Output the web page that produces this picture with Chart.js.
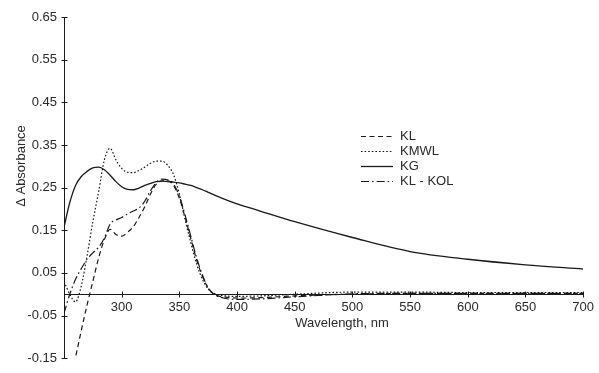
<!DOCTYPE html>
<html>
<head>
<meta charset="utf-8">
<script src="https://cdn.jsdelivr.net/npm/chart.js@4/dist/chart.umd.min.js"></script>
<style>
  html, body { margin: 0; padding: 0; background: #fff; }
  #wrap { width: 599px; height: 373px; position: relative; }
</style>
</head>
<body>
<div id="wrap"><canvas id="c" width="599" height="373"></canvas></div>
<script>
// ---- data ----
const wavelengths = [250,255,260,265,270,275,280,285,290,295,300,305,310,315,320,325,330,335,340,345,350,355,360,365,370,375,380,390,400,420,450,500,550,600,650,700];
const seriesNames = ['KL', 'KMWL', 'KG', 'KL - KOL'];
const klValues = [-0.28,-0.21,-0.148,-0.085,-0.025,0.03,0.085,0.128,0.152,0.14,0.136,0.145,0.158,0.18,0.205,0.235,0.258,0.266,0.266,0.255,0.225,0.18,0.13,0.08,0.042,0.014,0.0,-0.007,-0.009,-0.008,-0.004,0.0,0.002,0.002,0.002,0.002];
const kmwlValues = [0.03,0.0,-0.018,0.02,0.09,0.17,0.24,0.315,0.342,0.315,0.295,0.286,0.285,0.29,0.298,0.307,0.312,0.312,0.302,0.28,0.235,0.175,0.12,0.07,0.035,0.012,0.002,-0.004,-0.005,-0.004,0.0,0.005,0.005,0.004,0.004,0.004];
const kgValues = [0.157,0.215,0.255,0.276,0.288,0.296,0.298,0.292,0.279,0.264,0.252,0.246,0.245,0.249,0.255,0.26,0.264,0.265,0.264,0.263,0.261,0.258,0.255,0.25,0.245,0.239,0.233,0.222,0.212,0.195,0.17,0.133,0.1,0.082,0.069,0.059];
const klkolValues = [-0.045,0.0,0.035,0.06,0.082,0.097,0.11,0.132,0.165,0.174,0.18,0.188,0.195,0.202,0.218,0.243,0.262,0.27,0.268,0.258,0.23,0.185,0.135,0.085,0.045,0.015,0.0,-0.01,-0.012,-0.011,-0.006,0.001,0.002,0.002,0.002,0.002];
const xTickValues = [300,350,400,450,500,550,600,650,700];
const yTickValues = [-0.15,-0.05,0.05,0.15,0.25,0.35,0.45,0.55,0.65];
const xTitle = 'Wavelength, nm';
const yTitle = '\u0394 Absorbance';

const INK = '#1a1a1a';
const TXT = '#2a2a2a';
const FONT = '13px "Liberation Sans", Arial, sans-serif';

function pts(vals) { return wavelengths.map((w, i) => ({ x: w, y: vals[i] })); }

const styles = [
  { dash: [5, 3.5], width: 1.2 },
  { dash: [1.6, 2], width: 1.2 },
  { dash: [], width: 1.3 },
  { dash: [8, 3, 1.6, 3], width: 1.2 }
];
const allValues = [klValues, kmwlValues, kgValues, klkolValues];

const datasets = seriesNames.map((name, i) => ({
  label: name,
  data: pts(allValues[i]),
  borderColor: INK,
  backgroundColor: INK,
  borderWidth: styles[i].width,
  borderDash: styles[i].dash,
  pointRadius: 0,
  cubicInterpolationMode: 'monotone',
  fill: false
}));

const decor = {
  id: 'decor',
  afterDraw(chart) {
    const ctx = chart.ctx;
    const xs = chart.scales.x, ys = chart.scales.y;
    const ca = chart.chartArea;
    ctx.save();
    ctx.strokeStyle = INK;
    ctx.lineWidth = 1;
    // y ticks crossing axis
    const ax = Math.round(ca.left) + 0.5;
    yTickValues.forEach(v => {
      const py = Math.round(ys.getPixelForValue(v)) + 0.5;
      ctx.beginPath(); ctx.moveTo(ax - 3, py); ctx.lineTo(ax + 3, py); ctx.stroke();
    });
    // x ticks crossing axis
    const ay = Math.round(ys.getPixelForValue(0)) + 0.5;
    xTickValues.forEach(v => {
      const px = Math.round(xs.getPixelForValue(v)) + 0.5;
      ctx.beginPath(); ctx.moveTo(px, ay - 3); ctx.lineTo(px, ay + 3); ctx.stroke();
    });
    // titles
    ctx.fillStyle = TXT;
    ctx.font = FONT;
    ctx.textAlign = 'center';
    ctx.textBaseline = 'middle';
    ctx.fillText(xTitle, 342, 323);
    ctx.save();
    ctx.translate(21.5, 166);
    ctx.rotate(-Math.PI / 2);
    ctx.fillText(yTitle, 0, 0);
    ctx.restore();
    // legend
    chart.data.datasets.forEach((ds, i) => {
      const ly = Math.round(136 + i * 15) + 0.5;
      ctx.save();
      ctx.strokeStyle = INK;
      ctx.lineWidth = ds.borderWidth;
      ctx.setLineDash(ds.borderDash || []);
      ctx.beginPath(); ctx.moveTo(361, ly); ctx.lineTo(393, ly); ctx.stroke();
      ctx.restore();
      ctx.textAlign = 'left';
      ctx.fillText(ds.label, 400, ly);
    });
    ctx.restore();
  }
};

new Chart(document.getElementById('c'), {
  type: 'line',
  data: { datasets },
  plugins: [decor],
  options: {
    responsive: false,
    animation: false,
    devicePixelRatio: 1,
    layout: { padding: { left: 0, right: 11, top: 17, bottom: 8 } },
    plugins: { legend: { display: false }, tooltip: { enabled: false } },
    scales: {
      x: {
        type: 'linear',
        position: { y: 0 },
        min: 250, max: 700,
        afterBuildTicks: s => { s.ticks = xTickValues.map(v => ({ value: v })); },
        grid: { display: true, drawOnChartArea: false, drawTicks: false },
        border: { display: true, color: INK, width: 1 },
        ticks: { color: TXT, font: { family: '"Liberation Sans", Arial, sans-serif', size: 13 }, padding: 5, maxRotation: 0, autoSkip: false }
      },
      y: {
        type: 'linear',
        min: -0.15, max: 0.65,
        afterBuildTicks: s => { s.ticks = yTickValues.map(v => ({ value: v })); },
        afterFit: s => { s.width = 64; },
        grid: { display: true, drawOnChartArea: false, drawTicks: false },
        border: { display: true, color: INK, width: 1 },
        ticks: { color: TXT, font: { family: '"Liberation Sans", Arial, sans-serif', size: 13 }, padding: 7, callback: v => v.toFixed(2) }
      }
    }
  }
});
</script>
</body>
</html>
